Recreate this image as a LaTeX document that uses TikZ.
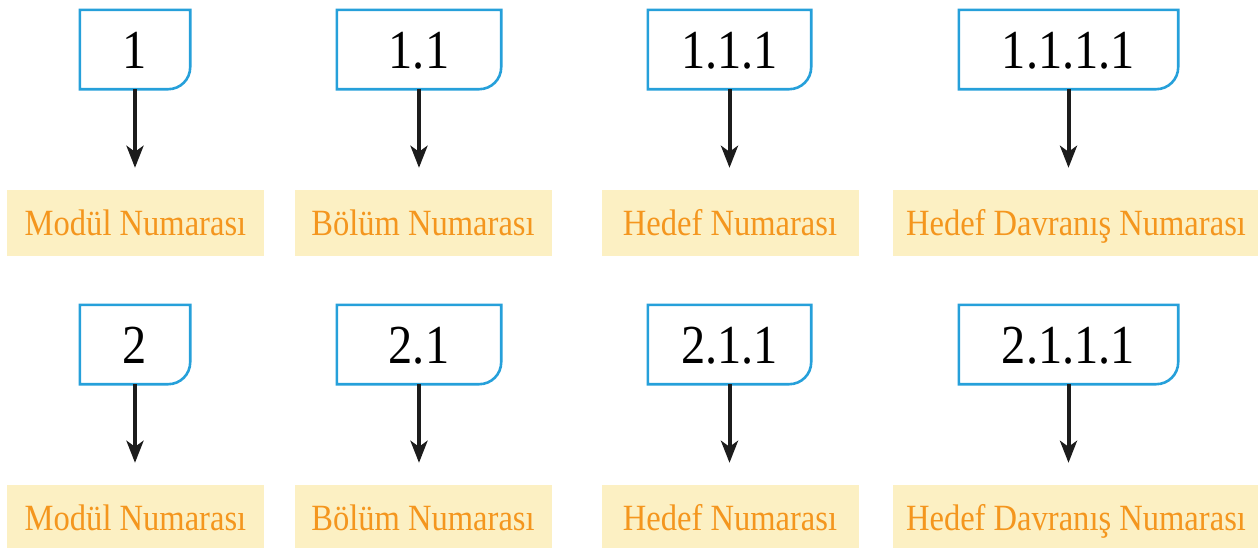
\documentclass[tikz,border=0pt]{standalone}
\usepackage{fontspec}
\setmainfont{Liberation Serif}[FakeStretch=0.88]
\usepackage{xcolor}
\usetikzlibrary{arrows.meta}

\definecolor{numblue}{RGB}{38,160,218}
\definecolor{labfill}{RGB}{252,240,195}
\definecolor{laborange}{RGB}{244,150,30}
\definecolor{arrowgray}{RGB}{28,28,28}

\begin{document}
\begin{tikzpicture}[x=1pt,y=-1pt]
        \tikzstyle{numbox} = [inner sep=0pt, minimum height=79pt, text height=37pt, text depth=0pt, font=\fontsize{55}{60}\selectfont]
        \tikzstyle{labbox} = [fill=labfill, text=laborange, inner xsep=13pt, inner ysep=0pt, minimum height=66pt, minimum width=257pt, text height=24pt, text depth=0pt, font=\fontsize{37}{40}\selectfont]
        \tikzstyle{numline} = [draw=numblue, line width=2.6pt]
        \tikzstyle{arr} = [draw=arrowgray, line width=4pt, -{Stealth[length=22pt,width=17pt,inset=6pt]}, shorten >=22pt]
        \useasboundingbox (0,0) rectangle (1258,547);
        \foreach \row/\dy in {1/0, 2/295} {
            \foreach \col/\x/\w/\lx/\suf/\txt in {1/135/110/135.5/{}/Modül Numarası, 2/419/164/423/.1/Bölüm Numarası, 3/729.5/163/730/.1.1/Hedef Numarası, 4/1068.5/219/1076/.1.1.1/Hedef Davranış Numarası} {
                \node[numbox, minimum width=\w pt] (num\row\col) at (\x,{49.5+\dy}) {\row\suf};
                \node[labbox] (lab\row\col) at (\lx,{223+\dy}) {\txt};
                \draw[numline] (num\row\col.north west) -- (num\row\col.north east) -- ([yshift=22pt]num\row\col.south east) arc[start angle=0, end angle=-90, radius=22pt] -- (num\row\col.south west) -- cycle;
                \draw[arr] (num\row\col.south) -- (num\row\col.south |- lab\row\col.north);
            }
        }
    \end{tikzpicture}
\end{document}
